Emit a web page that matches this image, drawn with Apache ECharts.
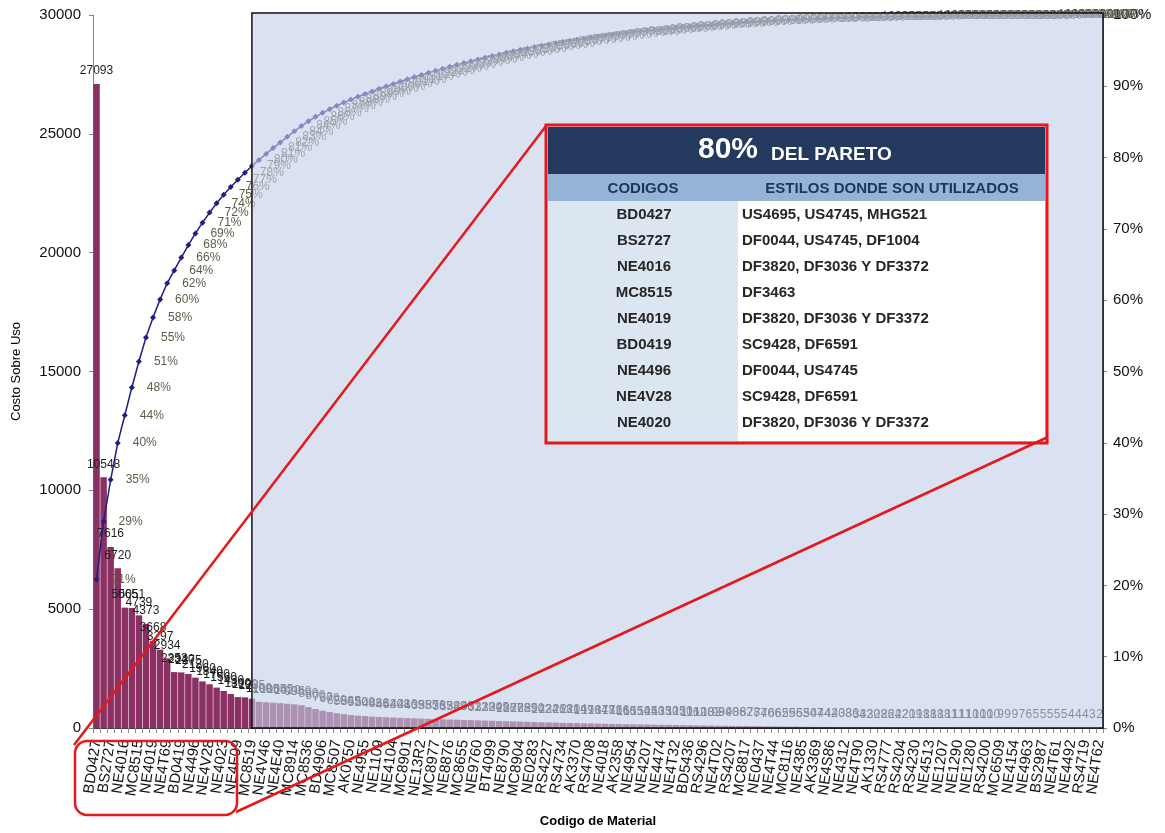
<!DOCTYPE html>
<html>
<head>
<meta charset="utf-8">
<script src="https://cdn.jsdelivr.net/npm/echarts@6/dist/echarts.min.js"></script>
<style>
  html, body { margin: 0; padding: 0; background: #ffffff; }
  #chart { width: 1165px; height: 833px; }
</style>
</head>
<body>
<div id="chart"></div>
<script>
// Material codes shown on the category axis (every other category carries a label)
const codeLabels = [
  'BD0427','BS2727','NE4016','MC8515','NE4019','NE4T69','BD0419','NE4496','NE4V28','NE4023',
  'NE4F09','MC8519','NE4V46','NE4E40','MC8914','MC8536','BD4906','MC8507','AK0750','NE4955',
  'NE1109','NE4104','MC8901','NE13R2','MC8977','NE8876','MC8655','NE9760','BT4099','NE8790',
  'MC8904','NE0283','RS4227','RS4734','AK3370','RS4708','NE4018','AK2358','NE4954','NE4207',
  'NE4474','NE4T32','BD5436','RS4296','NE4T02','RS4207','MC8817','NE0437','NE4T44','MC8116',
  'NE4385','AK3369','NE4S86','NE4312','NE4T90','AK1330','RS4777','RS4204','RS4230','NE4513',
  'NE1207','NE1290','NE1280','RS4200','MC6509','NE4154','NE4963','BS2987','NE4T61','NE4492',
  'RS4719','NE4T62'
];

// Cost per material, sorted from highest to lowest
const costs = [
  27093, 10548, 7616, 6720, 5065, 5051, 4739, 4373, 3668, 3297,
  2934, 2353, 2340, 2275, 2120, 1960, 1840, 1700, 1560, 1430,
  1300, 1290, 1235, 1100, 1085, 1065, 1045, 1020, 995, 960,
  880, 800, 730, 670, 620, 580, 545, 520, 500, 482,
  466, 452, 440, 428, 416, 405, 395, 385, 376, 367,
  358, 349, 340, 331, 322, 313, 304, 295, 286, 277,
  268, 259, 250, 242, 234, 226, 218, 211, 204, 197,
  190, 184, 178, 172, 166, 160, 155, 150, 145, 140,
  135, 130, 125, 120, 116, 112, 108, 102, 98, 94,
  90, 86, 82, 78, 74, 70, 66, 62, 59, 56,
  53, 50, 47, 44, 42, 40, 38, 36, 34, 32,
  30, 28, 26, 24, 22, 20, 19, 18, 18, 18,
  18, 11, 11, 11, 10, 10, 10, 10, 9, 9,
  9, 7, 6, 5, 5, 5, 5, 5, 4, 4,
  4, 3, 2
];

// Pareto summary table
const paretoCodes = ['BD0427','BS2727','NE4016','MC8515','NE4019','BD0419','NE4496','NE4V28','NE4020'];
const paretoStyles = [
  'US4695, US4745, MHG521',
  'DF0044, US4745, DF1004',
  'DF3820, DF3036 Y DF3372',
  'DF3463',
  'DF3820, DF3036 Y DF3372',
  'SC9428, DF6591',
  'DF0044, US4745',
  'SC9428, DF6591',
  'DF3820, DF3036 Y DF3372'
];

const FONT = '"Liberation Sans", Arial, sans-serif';

// one category per cost; labels on even positions
const categories = costs.map((_, i) => (i % 2 === 0 ? codeLabels[i / 2] : ''));

// cumulative share in percent
const total = costs.reduce((a, b) => a + b, 0);
let running = 0;
const cumulative = costs.map(v => { running += v; return running / total * 100; });

const chart = echarts.init(document.getElementById('chart'), null, { renderer: 'canvas' });

const option = {
  animation: false,
  backgroundColor: '#ffffff',
  textStyle: { fontFamily: FONT },
  grid: { left: 93, right: 62, top: 15, bottom: 98 },
  xAxis: {
    type: 'category',
    data: categories,
    boundaryGap: true,
    name: 'Codigo de Material',
    nameLocation: 'middle',
    nameGap: 87,
    nameTextStyle: { fontFamily: FONT, fontSize: 13, fontWeight: 'bold', color: '#000' },
    axisLine: { lineStyle: { color: '#404040', width: 1 } },
    axisTick: { show: true, interval: 0, length: 5, lineStyle: { color: '#8a8a8a' } },
    axisLabel: { interval: 0, rotate: 82, fontSize: 15, color: '#111', margin: 12, fontFamily: FONT },
    splitLine: { show: false }
  },
  yAxis: [
    {
      type: 'value',
      min: 0, max: 30000, interval: 5000,
      position: 'left',
      name: 'Costo Sobre Uso',
      nameLocation: 'middle',
      nameGap: 70,
      nameRotate: 90,
      nameTextStyle: { fontFamily: FONT, fontSize: 13, color: '#000' },
      axisLine: { show: true, lineStyle: { color: '#868686' } },
      axisTick: { show: true, length: 4, lineStyle: { color: '#868686' } },
      axisLabel: { fontSize: 15, color: '#111', margin: 12, fontFamily: FONT, formatter: v => String(v) },
      splitLine: { show: false }
    },
    {
      type: 'value',
      min: 0, max: 100, interval: 10,
      position: 'right',
      axisLine: { show: true, lineStyle: { color: '#868686' } },
      axisTick: { show: true, length: 4, lineStyle: { color: '#868686' } },
      axisLabel: { fontSize: 15, color: '#111', margin: 10, formatter: '{value}%', fontFamily: FONT },
      splitLine: { show: false }
    }
  ],
  series: [
    {
      type: 'bar',
      data: costs,
      barCategoryGap: '8%',
      itemStyle: { color: '#8a3062' },
      label: { show: true, position: 'top', distance: 7, fontSize: 12, color: '#1e1e1e', fontFamily: FONT }
    },
    {
      type: 'line',
      yAxisIndex: 1,
      data: cumulative,
      symbol: 'diamond',
      symbolSize: 6,
      showAllSymbol: true,
      lineStyle: { color: '#1e1e84', width: 1.5 },
      itemStyle: { color: '#1e1e84' },
      label: {
        show: true, position: 'right', distance: 12,
        fontSize: 12, color: '#5c5c48', fontFamily: FONT,
        formatter: p => Math.round(p.value) + '%'
      }
    }
  ]
};

chart.setOption(option);

// frame highlighting the tail of the curve, aligned with the axes
const c0 = chart.convertToPixel({ xAxisIndex: 0 }, 0);
const c1 = chart.convertToPixel({ xAxisIndex: 0 }, 1);
const band = c1 - c0;
const boxLeft = chart.convertToPixel({ xAxisIndex: 0 }, 22);
const plotRight = c0 - band / 2 + band * costs.length;
const yTop = chart.convertToPixel({ yAxisIndex: 1 }, 100);
const yBottom = chart.convertToPixel({ yAxisIndex: 1 }, 0);

// summary table layout
const T = { x: 548, y: 127, w: 497, titleH: 47, headH: 27, rowH: 26, splitX: 738 };
const ZT = 110;
const tableChildren = [];
const bodyTop = T.y + T.titleH + T.headH;
const bodyH = T.rowH * paretoCodes.length + 6;
tableChildren.push({ type: 'rect', z: ZT, shape: { x: T.x, y: T.y, width: T.w, height: T.titleH + T.headH + bodyH }, style: { fill: '#ffffff' } });
tableChildren.push({ type: 'rect', z: ZT, shape: { x: T.x, y: T.y, width: T.w, height: T.titleH }, style: { fill: '#233a5e' } });
tableChildren.push({ type: 'rect', z: ZT, shape: { x: T.x, y: T.y + T.titleH, width: T.w, height: T.headH }, style: { fill: '#95b3d7' } });
tableChildren.push({ type: 'rect', z: ZT, shape: { x: T.x, y: bodyTop, width: T.splitX - T.x, height: bodyH }, style: { fill: '#dce6f1' } });
tableChildren.push({ type: 'text', z: ZT + 1, style: { x: 728, y: T.y + 38, text: '80%', fill: '#ffffff', font: 'bold 30px ' + FONT, textAlign: 'center', textVerticalAlign: 'bottom' } });
tableChildren.push({ type: 'text', z: ZT + 1, style: { x: 771, y: T.y + 37, text: 'DEL PARETO', fill: '#ffffff', font: 'bold 19px ' + FONT, textAlign: 'left', textVerticalAlign: 'bottom' } });
tableChildren.push({ type: 'text', z: ZT + 1, style: { x: 643, y: T.y + T.titleH + T.headH / 2 + 1, text: 'CODIGOS', fill: '#1f3556', font: 'bold 15px ' + FONT, textAlign: 'center', textVerticalAlign: 'middle' } });
tableChildren.push({ type: 'text', z: ZT + 1, style: { x: 892, y: T.y + T.titleH + T.headH / 2 + 1, text: 'ESTILOS DONDE SON UTILIZADOS', fill: '#1f3556', font: 'bold 15px ' + FONT, textAlign: 'center', textVerticalAlign: 'middle' } });
paretoCodes.forEach((code, i) => {
  const cy = bodyTop + 14 + i * T.rowH;
  tableChildren.push({ type: 'text', z: ZT + 1, style: { x: 644, y: cy, text: code, fill: '#262626', font: 'bold 15px ' + FONT, textAlign: 'center', textVerticalAlign: 'middle' } });
  tableChildren.push({ type: 'text', z: ZT + 1, style: { x: 742, y: cy, text: paretoStyles[i], fill: '#262626', font: 'bold 15px ' + FONT, textAlign: 'left', textVerticalAlign: 'middle' } });
});
tableChildren.push({ type: 'rect', z: ZT + 2, shape: { x: T.x - 2, y: T.y - 2, width: T.w + 4, height: T.titleH + T.headH + bodyH + 4 }, style: { fill: null, stroke: '#e3191c', lineWidth: 3 } });

chart.setOption({
  graphic: [
    {
      type: 'rect', z: 100,
      shape: { x: boxLeft, y: yTop - 2, width: plotRight - boxLeft, height: yBottom - yTop + 2 },
      style: { fill: 'rgba(196,207,231,0.62)', stroke: '#111111', lineWidth: 1.5 }
    },
    { type: 'group', z: ZT, children: tableChildren },
    {
      type: 'line', z: 120,
      shape: { x1: 546, y1: 126, x2: 74, y2: 745 },
      style: { stroke: '#e3191c', lineWidth: 2.5 }
    },
    {
      type: 'line', z: 120,
      shape: { x1: 1048, y1: 437, x2: 236, y2: 812 },
      style: { stroke: '#e3191c', lineWidth: 2.5 }
    },
    {
      type: 'rect', z: 120,
      shape: { x: 75, y: 741, width: 162, height: 74, r: 12 },
      style: { fill: null, stroke: '#e3191c', lineWidth: 2.5 }
    }
  ]
});
</script>
</body>
</html>
